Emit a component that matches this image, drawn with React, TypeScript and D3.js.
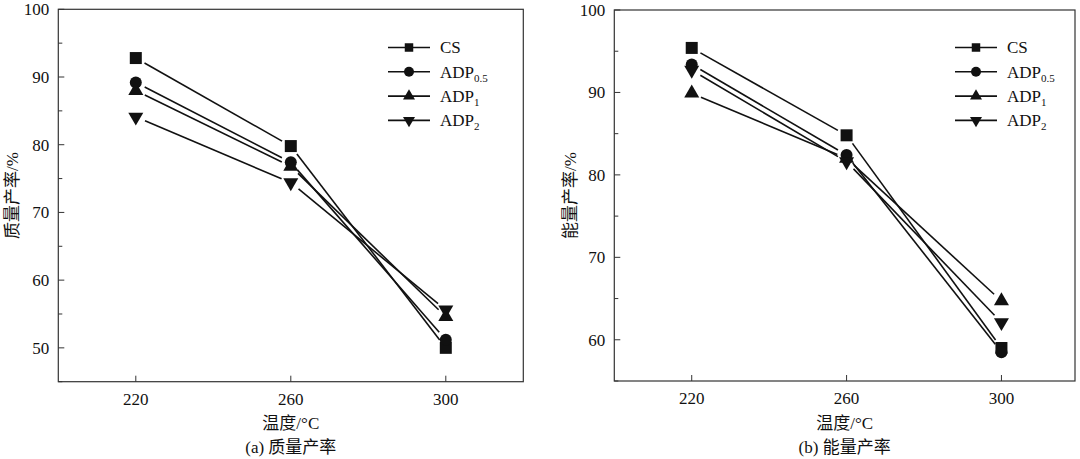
import React from "react";
import * as d3 from "d3";

const temps = [220, 260, 300];
const seriesNames = ["CS", "ADP0.5", "ADP1", "ADP2"];
const seriesSubs = ["", "0.5", "1", "2"];
const seriesBase = ["CS", "ADP", "ADP", "ADP"];
const markerTypes = ["square", "circle", "up", "down"];

const massCS = [92.8, 79.8, 50.0];
const massADP05 = [89.2, 77.4, 51.2];
const massADP1 = [88.0, 76.8, 54.6];
const massADP2 = [84.1, 74.4, 55.6];

const energyCS = [95.4, 84.8, 59.0];
const energyADP05 = [93.4, 82.4, 58.5];
const energyADP1 = [89.9, 82.0, 64.7];
const energyADP2 = [92.7, 81.6, 62.1];

const xTicks = [220, 260, 300];
const massYTicks = [50, 60, 70, 80, 90, 100];
const massYMinor = [45, 55, 65, 75, 85, 95];
const energyYTicks = [60, 70, 80, 90, 100];
const energyYMinor = [55, 65, 75, 85, 95];

const FONT = "'Liberation Serif', 'Noto Sans CJK SC', serif";
const INK = "#111";

function markerPath(type: string, s: number): string {
  if (type === "square") return d3.symbol(d3.symbolSquare, s * s)()!;
  if (type === "circle") return d3.symbol(d3.symbolCircle, Math.PI * (s / 2) * (s / 2))()!;
  const area = (Math.sqrt(3) / 4) * s * s;
  return d3.symbol(d3.symbolTriangle, area)()!;
}

function Marker({ type, x, y, s }: { type: string; x: number; y: number; s: number }) {
  const rot = type === "down" ? 180 : 0;
  return (
    <path
      d={markerPath(type, s)}
      transform={`translate(${x},${y}) rotate(${rot})`}
      fill={INK}
    />
  );
}

type PanelProps = {
  x0: number;
  x1: number;
  y0: number;
  y1: number;
  xDomain: [number, number];
  yDomain: [number, number];
  yTicks: number[];
  yMinor: number[];
  data: number[][];
  yLabel: string;
  caption: string;
  legendX: number;
  legendY: number;
  labelX: number;
};

function Panel(p: PanelProps) {
  const x = d3.scaleLinear().domain(p.xDomain).range([p.x0, p.x1]);
  const y = d3.scaleLinear().domain(p.yDomain).range([p.y1, p.y0]);
  const gap = 10;
  const midX = (p.x0 + p.x1) / 2;
  const mSize = (t: string) => (t === "up" || t === "down" ? 15 : 12);
  const lSize = (t: string) => (t === "square" ? 8.5 : t === "circle" ? 10 : 12);
  return (
    <g fontFamily={FONT} fill={INK}>
      {p.data.map((vals, si) =>
        vals.slice(0, -1).map((v, i) => {
          const ax = x(temps[i]), ay = y(v);
          const bx = x(temps[i + 1]), by = y(vals[i + 1]);
          const len = Math.hypot(bx - ax, by - ay);
          const ux = (bx - ax) / len, uy = (by - ay) / len;
          return (
            <line
              key={`l${si}-${i}`}
              x1={ax + ux * gap}
              y1={ay + uy * gap}
              x2={bx - ux * gap}
              y2={by - uy * gap}
              stroke={INK}
              strokeWidth={1.6}
            />
          );
        })
      )}
      {p.data.map((vals, si) =>
        vals.map((v, i) => (
          <Marker key={`m${si}-${i}`} type={markerTypes[si]} x={x(temps[i])} y={y(v)} s={mSize(markerTypes[si])} />
        ))
      )}
      <rect x={p.x0} y={p.y0} width={p.x1 - p.x0} height={p.y1 - p.y0} fill="none" stroke="#333" strokeWidth={1.2} />
      {p.yTicks.map((t) => (
        <g key={`yt${t}`}>
          <line x1={p.x0} x2={p.x0 + 6} y1={y(t)} y2={y(t)} stroke="#333" strokeWidth={1} />
          <text x={p.x0 - 9} y={y(t)} dy="0.35em" textAnchor="end" fontSize={17}>
            {t}
          </text>
        </g>
      ))}
      {p.yMinor.map((t) => (
        <line key={`ym${t}`} x1={p.x0} x2={p.x0 + 4} y1={y(t)} y2={y(t)} stroke="#333" strokeWidth={1} />
      ))}
      {xTicks.map((t) => (
        <g key={`xt${t}`}>
          <line x1={x(t)} x2={x(t)} y1={p.y1} y2={p.y1 - 6} stroke="#333" strokeWidth={1} />
          <text x={x(t)} y={p.y1 + 17} dy="0.35em" textAnchor="middle" fontSize={17}>
            {t}
          </text>
        </g>
      ))}
      <text x={midX} y={423} dy="0.35em" textAnchor="middle" fontSize={17}>
        温度/°C
      </text>
      <text x={midX} y={447} dy="0.35em" textAnchor="middle" fontSize={17}>
        {p.caption}
      </text>
      <text
        transform={`translate(${p.labelX},${(p.y0 + p.y1) / 2}) rotate(-90)`}
        dy="0.35em"
        textAnchor="middle"
        fontSize={17}
      >
        {p.yLabel}
      </text>
      {seriesNames.map((n, i) => {
        const ly = p.legendY + i * 24.3;
        return (
          <g key={`lg${n}`}>
            <line x1={p.legendX} x2={p.legendX + 42} y1={ly} y2={ly} stroke={INK} strokeWidth={1.6} />
            <Marker type={markerTypes[i]} x={p.legendX + 21} y={ly} s={lSize(markerTypes[i])} />
            <text x={p.legendX + 52} y={ly} dy="0.35em" fontSize={17}>
              {seriesBase[i]}
              {seriesSubs[i] && (
                <tspan fontSize={11} dy="4">
                  {seriesSubs[i]}
                </tspan>
              )}
            </text>
          </g>
        );
      })}
    </g>
  );
}

export default function App() {
  return (
    <svg
      width={1080}
      height={459}
      style={{ position: "absolute", left: 0, top: 0, background: "#fff" }}
    >
      <rect x={0} y={0} width={1080} height={459} fill="#fff" />
      <Panel
        x0={58.3}
        x1={523.3}
        y0={9.3}
        y1={381.7}
        xDomain={[200, 320]}
        yDomain={[45, 100]}
        yTicks={massYTicks}
        yMinor={massYMinor}
        data={[massCS, massADP05, massADP1, massADP2]}
        yLabel="质量产率/%"
        caption="(a) 质量产率"
        legendX={388}
        legendY={47.5}
        labelX={12}
      />
      <Panel
        x0={614.3}
        x1={1075}
        y0={10}
        y1={381}
        xDomain={[200, 319]}
        yDomain={[55, 100]}
        yTicks={energyYTicks}
        yMinor={energyYMinor}
        data={[energyCS, energyADP05, energyADP1, energyADP2]}
        yLabel="能量产率/%"
        caption="(b) 能量产率"
        legendX={955}
        legendY={47.5}
        labelX={570}
      />
    </svg>
  );
}
